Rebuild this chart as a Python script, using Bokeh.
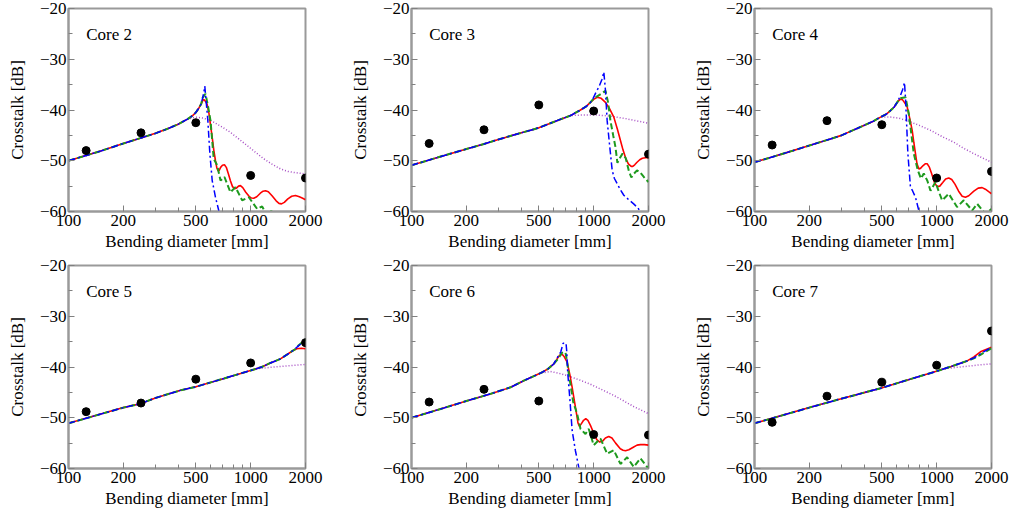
from bokeh.plotting import figure
from bokeh.layouts import gridplot
from bokeh.models import Range1d, FixedTicker, CustomJSTickFormatter, Label
from bokeh.embed import file_html
from bokeh.resources import INLINE

# ---------------- data ----------------
meas_x = [125, 250, 500, 1000, 2000]
x_ticks = [100, 200, 500, 1000, 2000]
x_minor = [300, 400, 600, 700, 800, 900]
y_ticks = [-60, -50, -40, -30, -20]
y_minor = [-55, -45, -35, -25]
titles = ["Core 2", "Core 3", "Core 4", "Core 5", "Core 6", "Core 7"]

# Core 2
c2_base_x = [100, 150, 200, 250, 300, 350, 400, 450, 480, 500, 520, 535]
c2_base_y = [-50.0, -48.1, -46.6, -45.5, -44.6, -43.7, -42.8, -41.8, -41.1, -40.5, -39.6, -38.8]
c2_red_x = [548, 556, 565, 577, 590, 602, 615, 628, 641, 652, 663, 672, 684, 700, 718, 735, 755, 775, 795, 815, 835, 858, 879, 905, 940, 980, 1010, 1040, 1080, 1130, 1170, 1206, 1250, 1310, 1380, 1430, 1476, 1530, 1600, 1680, 1762, 1850, 1930, 2000]
c2_red_y = [-38.0, -38.0, -38.3, -38.9, -40.6, -43.0, -45.4, -48.0, -50.0, -51.4, -52.0, -51.9, -51.3, -50.9, -50.8, -51.3, -52.6, -54.0, -55.1, -55.5, -55.4, -55.0, -54.9, -55.3, -56.2, -57.0, -57.35, -57.4, -57.1, -56.4, -56.0, -55.9, -56.1, -56.9, -57.9, -58.4, -58.5, -58.2, -57.5, -57.0, -56.85, -57.1, -57.4, -57.7]
c2_green_x = [545, 565, 585, 602, 627, 655, 683, 718, 774, 825, 898, 977, 1086, 1156, 1230, 1300, 1400, 1500, 2000]
c2_green_y = [-37.6, -36.8, -39.5, -42.1, -49.6, -50.9, -53.9, -53.2, -56.2, -55.2, -57.8, -57.2, -59.5, -59.0, -60.8, -59.9, -61.5, -62.0, -63.0]
c2_blue_x = [545, 553, 560, 572, 582, 597, 615, 641, 668, 700]
c2_blue_y = [-37.6, -36.6, -35.3, -39.0, -42.1, -48.6, -53.9, -57.2, -59.8, -62.0]
c2_purple_x = [450, 500, 552, 627, 700, 774, 860, 956, 1060, 1178, 1300, 1457, 1600, 1725, 2000]
c2_purple_y = [-41.8, -41.4, -41.6, -42.4, -43.4, -44.4, -45.7, -47.0, -48.3, -49.6, -50.6, -51.6, -52.1, -52.3, -52.6]
c2_meas_y = [-48.0, -44.5, -42.5, -52.9, -53.4]

# Core 3
c3_base_x = [100, 150, 200, 250, 300, 400, 450, 500, 579, 650, 746, 846, 910, 960]
c3_base_y = [-50.9, -49.0, -47.7, -46.7, -45.8, -44.5, -44.0, -43.5, -42.6, -41.9, -41.1, -40.0, -39.3, -38.5]
c3_red_x = [1000, 1045, 1100, 1161, 1220, 1290, 1350, 1403, 1450, 1500, 1550, 1607, 1640, 1680, 1730, 1790, 1850, 1920, 2000]
c3_red_y = [-37.9, -37.5, -37.7, -38.5, -39.7, -41.4, -43.8, -46.0, -47.9, -49.5, -50.6, -51.1, -51.1, -50.8, -50.3, -49.8, -49.5, -49.4, -49.4]
c3_green_x = [985, 1045, 1100, 1161, 1200, 1236, 1280, 1317, 1350, 1390, 1440, 1500, 1560, 1610, 1660, 1730, 1800, 1885, 2000]
c3_green_y = [-38.0, -37.3, -36.8, -36.2, -38.5, -42.1, -45.0, -47.3, -50.4, -49.5, -48.6, -49.5, -52.0, -53.3, -52.6, -51.9, -52.3, -53.2, -54.2]
c3_blue_x = [985, 1030, 1067, 1110, 1137, 1160, 1186, 1226, 1264, 1300, 1346, 1400, 1464, 1560, 1658, 1750, 1804, 1900, 2000]
c3_blue_y = [-38.0, -36.5, -35.5, -34.0, -32.5, -36.0, -42.1, -47.3, -51.9, -53.5, -54.5, -55.7, -56.8, -57.7, -58.5, -59.3, -60.1, -60.8, -61.5]
c3_purple_x = [746, 850, 1000, 1150, 1300, 1500, 1700, 2000]
c3_purple_y = [-41.1, -41.0, -40.95, -41.1, -41.35, -41.7, -42.1, -42.6]
c3_meas_y = [-46.6, -43.9, -39.0, -40.2, -48.7]

# Core 4
c4_base_x = [100, 150, 200, 261, 300, 398, 450, 492, 530, 558, 585, 607]
c4_base_y = [-50.3, -48.4, -47.0, -45.7, -45.0, -43.05, -42.2, -41.4, -40.8, -40.1, -39.4, -38.5]
c4_red_x = [625, 638, 650, 665, 689, 710, 734, 750, 765, 780, 798, 815, 840, 865, 887, 910, 940, 970, 1006, 1040, 1080, 1120, 1165, 1210, 1260, 1320, 1380, 1439, 1500, 1600, 1690, 1777, 1850, 1930, 2000]
c4_red_y = [-38.0, -37.9, -38.0, -38.5, -39.4, -41.5, -44.0, -46.5, -48.6, -50.6, -51.6, -51.5, -51.0, -50.6, -50.6, -51.2, -52.6, -54.2, -55.1, -55.0, -54.3, -53.6, -53.4, -53.7, -54.6, -56.0, -57.0, -57.2, -56.9, -56.0, -55.4, -55.3, -55.6, -56.1, -56.5]
c4_green_x = [630, 675, 703, 749, 788, 820, 850, 890, 925, 985, 1030, 1072, 1165, 1294, 1408, 1566, 1669, 1853, 2000]
c4_green_y = [-37.7, -37.5, -40.75, -48.6, -51.9, -53.5, -52.5, -54.0, -55.9, -54.2, -56.2, -57.8, -56.5, -59.1, -57.8, -59.8, -58.5, -60.5, -59.5]
c4_blue_x = [630, 650, 666, 675, 683, 695, 718, 737, 765, 798, 830]
c4_blue_y = [-37.3, -36.0, -34.6, -38.0, -42.1, -48.6, -55.2, -55.9, -57.2, -59.8, -62.0]
c4_purple_x = [492, 558, 620, 689, 800, 925, 1080, 1242, 1400, 1598, 1800, 2000]
c4_purple_y = [-41.4, -41.4, -41.6, -42.1, -43.0, -44.0, -45.3, -46.35, -47.5, -48.6, -49.5, -50.3]
c4_meas_y = [-46.9, -42.1, -42.9, -53.4, -52.1]

# Core 5
c5_base_x = [100, 200, 250, 300, 412, 500, 700, 998, 1150, 1284, 1457, 1654]
c5_base_y = [-51.1, -48.0, -47.2, -46.1, -44.6, -43.9, -42.35, -40.7, -40.0, -39.2, -38.4, -37.1]
c5_red_x = [1700, 1790, 1900, 2000]
c5_red_y = [-36.8, -36.4, -36.3, -36.4]
c5_green_x = [1700, 1760, 1836, 2000]
c5_green_y = [-36.8, -36.5, -35.7, -34.6]
c5_blue_x = [1700, 1836, 1974, 2000]
c5_blue_y = [-36.8, -35.8, -34.8, -34.4]
c5_purple_x = [998, 1086, 1300, 1457, 1700, 2000]
c5_purple_y = [-40.7, -40.35, -40.05, -39.9, -39.7, -39.5]
c5_meas_y = [-48.8, -47.1, -42.4, -39.2, -35.2]

# Core 6
c6_base_x = [100, 150, 200, 271, 350, 413, 511, 560, 604]
c6_base_y = [-50.0, -48.1, -46.7, -45.3, -44.0, -42.7, -41.2, -40.4, -39.4]
c6_red_x = [630, 650, 663, 675, 690, 715, 740, 762, 785, 805, 820, 836, 855, 880, 905, 930, 960, 1000, 1040, 1080, 1120, 1160, 1210, 1260, 1320, 1400, 1450, 1495, 1560, 1650, 1730, 1806, 1900, 2000]
c6_red_y = [-38.4, -37.7, -37.5, -37.6, -38.0, -39.05, -41.5, -44.0, -46.8, -49.2, -51.0, -51.7, -51.2, -50.5, -50.2, -50.5, -51.5, -53.0, -54.3, -54.8, -54.6, -54.0, -53.7, -54.0, -55.0, -56.1, -56.4, -56.5, -56.3, -55.8, -55.4, -55.3, -55.3, -55.4]
c6_green_x = [640, 670, 700, 715, 730, 772, 811, 847, 902, 940, 1000, 1090, 1186, 1290, 1403, 1527, 1660, 1806, 1966, 2000]
c6_green_y = [-38.3, -37.2, -37.1, -39.0, -41.3, -46.9, -49.2, -52.2, -53.2, -52.2, -55.4, -54.1, -57.1, -56.4, -59.1, -57.8, -59.7, -58.0, -59.7, -60.0]
c6_blue_x = [630, 660, 680, 705, 712, 720, 739, 762, 794, 828, 860]
c6_blue_y = [-38.2, -37.0, -35.3, -35.3, -37.0, -41.0, -46.0, -52.5, -56.5, -59.7, -62.0]
c6_purple_x = [511, 579, 640, 715, 830, 960, 1100, 1290, 1450, 1660, 1850, 2000]
c6_purple_y = [-41.2, -40.9, -41.2, -41.7, -42.5, -43.4, -44.4, -45.6, -46.6, -47.8, -48.6, -49.2]
c6_meas_y = [-46.9, -44.4, -46.7, -53.3, -53.4]

# Core 7
c7_base_x = [100, 200, 296, 400, 492, 700, 1006, 1200, 1471]
c7_base_y = [-51.1, -48.0, -46.3, -45.05, -44.2, -42.5, -40.8, -39.9, -38.8]
c7_red_x = [1600, 1739, 2000]
c7_red_y = [-38.0, -37.0, -36.1]
c7_green_x = [1600, 1739, 2000]
c7_green_y = [-38.3, -37.6, -36.3]
c7_blue_x = [1600, 1739, 2000]
c7_blue_y = [-38.2, -37.4, -36.1]
c7_purple_x = [1006, 1094, 1300, 1471, 1700, 2000]
c7_purple_y = [-40.8, -40.35, -40.05, -39.85, -39.6, -39.4]
c7_meas_y = [-50.9, -45.75, -43.0, -39.65, -32.9]

panels = [
    (c2_base_x, c2_base_y, c2_red_x, c2_red_y, c2_green_x, c2_green_y, c2_blue_x, c2_blue_y, c2_purple_x, c2_purple_y, c2_meas_y),
    (c3_base_x, c3_base_y, c3_red_x, c3_red_y, c3_green_x, c3_green_y, c3_blue_x, c3_blue_y, c3_purple_x, c3_purple_y, c3_meas_y),
    (c4_base_x, c4_base_y, c4_red_x, c4_red_y, c4_green_x, c4_green_y, c4_blue_x, c4_blue_y, c4_purple_x, c4_purple_y, c4_meas_y),
    (c5_base_x, c5_base_y, c5_red_x, c5_red_y, c5_green_x, c5_green_y, c5_blue_x, c5_blue_y, c5_purple_x, c5_purple_y, c5_meas_y),
    (c6_base_x, c6_base_y, c6_red_x, c6_red_y, c6_green_x, c6_green_y, c6_blue_x, c6_blue_y, c6_purple_x, c6_purple_y, c6_meas_y),
    (c7_base_x, c7_base_y, c7_red_x, c7_red_y, c7_green_x, c7_green_y, c7_blue_x, c7_blue_y, c7_purple_x, c7_purple_y, c7_meas_y),
]


def join(bx, by, tx, ty):
    xs = [x for x in bx if x < tx[0]]
    ys = [y for x, y in zip(bx, by) if x < tx[0]]
    return xs + list(tx), ys + list(ty)


FONT = "'Liberation Serif', 'Times New Roman', serif"
FRAME = "#9a9a9a"
col_w = [343, 343, 325]
col_r = [38, 38, 20]
row_h = [257, 261]
row_b = [46, 50]

figs = []
for i, (bx, by, rx, ry, gx, gy, blx, bly, px, py, my) in enumerate(panels):
    r, c = divmod(i, 3)
    p = figure(width=col_w[c], height=row_h[r], x_axis_type="log",
               x_range=Range1d(100, 2000), y_range=Range1d(-60, -20),
               output_backend="svg", toolbar_location=None,
               min_border_left=68, min_border_right=col_r[c],
               min_border_top=8, min_border_bottom=row_b[r])
    p.grid.visible = False
    p.outline_line_color = FRAME
    p.outline_line_width = 2
    p.background_fill_color = "white"
    p.border_fill_color = "white"

    p.xaxis.ticker = FixedTicker(ticks=x_ticks, minor_ticks=x_minor)
    p.yaxis.ticker = FixedTicker(ticks=y_ticks, minor_ticks=y_minor)
    p.xaxis.formatter = CustomJSTickFormatter(code="return String(Math.round(tick));")
    p.yaxis.formatter = CustomJSTickFormatter(code="return (tick < 0 ? '\u2212' : '') + Math.abs(tick);")
    p.xaxis.axis_label = "Bending diameter [mm]"
    p.yaxis.axis_label = "Crosstalk [dB]"
    for ax in (p.xaxis, p.yaxis):
        ax.axis_line_color = FRAME
        ax.axis_line_width = 2
        ax.major_tick_in = 6
        ax.major_tick_out = 0
        ax.minor_tick_in = 4
        ax.minor_tick_out = 0
        ax.major_tick_line_color = "#808080"
        ax.minor_tick_line_color = "#808080"
        ax.major_label_text_font = FONT
        ax.major_label_text_font_size = "17px"
        ax.major_label_text_color = "black"
        ax.axis_label_text_font = FONT
        ax.axis_label_text_font_size = "17px"
        ax.axis_label_text_font_style = "normal"
        ax.axis_label_text_color = "black"
    p.xaxis.major_label_standoff = 3
    p.xaxis.axis_label_standoff = 3
    p.yaxis.major_label_standoff = 2
    p.yaxis.axis_label_standoff = 10

    X, Y = join(bx, by, px, py)
    p.line(X, Y, color="#a64dc4", line_width=1.5, line_dash="1 2")
    X, Y = join(bx, by, rx, ry)
    p.line(X, Y, color="#ff0000", line_width=1.6)
    X, Y = join(bx, by, gx, gy)
    p.line(X, Y, color="#1e9a1e", line_width=2, line_dash="6 3")
    X, Y = join(bx, by, blx, bly)
    p.line(X, Y, color="#0000ff", line_width=1.5, line_dash="7 3 2 3")
    p.scatter(meas_x, my, size=8, color="black")

    p.add_layout(Label(x=125, y=-25.1, text=titles[i], text_font=FONT,
                       text_font_size="17px", text_baseline="middle", text_color="black"))
    figs.append(p)

grid = gridplot([figs[0:3], figs[3:6]], toolbar_location=None)
open("out.html", "w").write(file_html(grid, INLINE))
